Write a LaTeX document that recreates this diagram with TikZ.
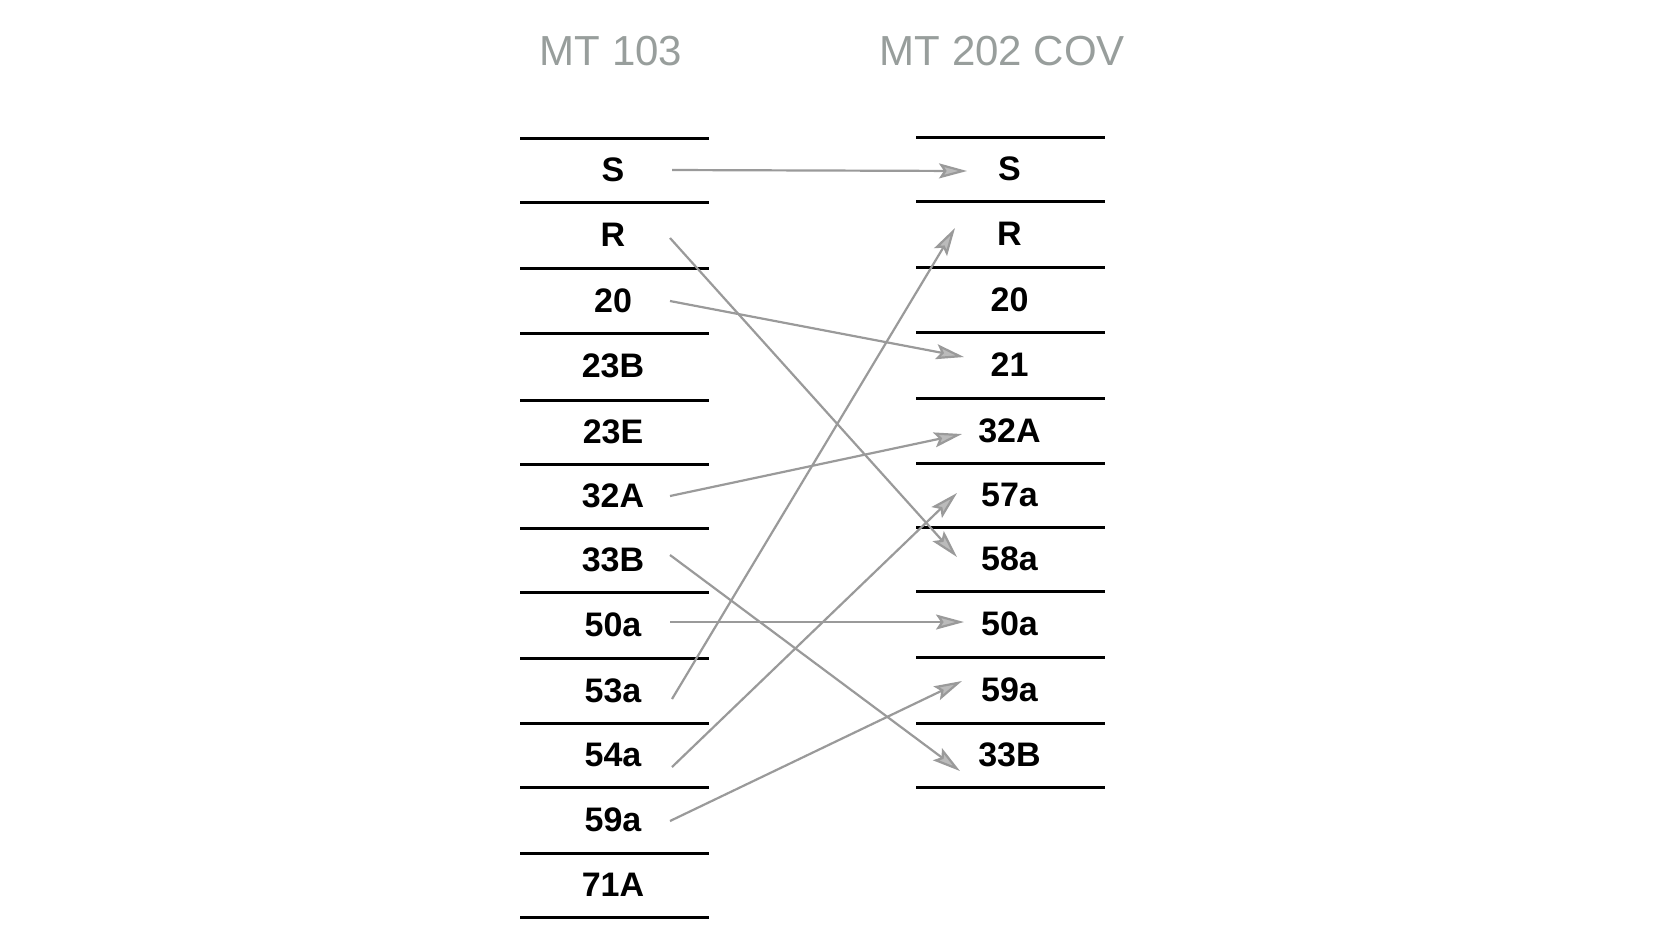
\documentclass[tikz,border=0pt]{standalone}
\usepackage{fontspec}
\setmainfont{Liberation Sans}
\usetikzlibrary{arrows.meta}
\definecolor{ttl}{HTML}{989E9C}
\definecolor{arr}{HTML}{9A9A9A}
\definecolor{arrfill}{HTML}{BBBBBB}
\begin{document}
\begin{tikzpicture}[x=0.5pt,y=-0.5pt,
  rule/.style={line width=1.5pt,black},
  lbl/.style={font=\fontsize{17}{19}\selectfont\bfseries,anchor=base,inner sep=0pt},
  ttlsty/.style={font=\fontsize{21}{24}\selectfont,text=ttl,anchor=base,inner sep=0pt},
  link/.style={draw=arr,line width=1.1pt,-{Stealth[length=14pt,width=7.5pt,inset=2.5pt,fill=arrfill]}}]
\path[use as bounding box,fill=white] (0,0) rectangle (1680,950);
% titles
\node[ttlsty] (t1) at (611,65) {MT 103};
\node[ttlsty] (t2) at (1002.5,65) {MT 202 COV};
% left column rules
\foreach \y in {138,202.5,268,333,400.7,464,528,592.5,658,723,787.5,853,917}
  \draw[rule] (520,\y) -- (709,\y);
% right column rules
\foreach \y in {137,201.5,267,332,398.5,463,527,591.5,657,723,787.5}
  \draw[rule] (916,\y) -- (1105,\y);
% left labels
\foreach \n/\t/\y in {1/S/181.75,2/R/246.75,3/20/312,4/23B/377.85,5/23E/443.85,6/32A/507.5,7/33B/571.75,8/50a/636.75,9/53a/702,10/54a/766.75,11/59a/831.75,12/71A/896.5}
  \node[lbl] (l\n) at (613,\y) {\t};
% right labels
\foreach \n/\t/\y in {1/S/180.75,2/R/245.75,3/20/311,4/21/376.75,5/32A/442.25,6/57a/506.5,7/58a/570.75,8/50a/635.75,9/59a/701.5,10/33B/766.75}
  \node[lbl] (r\n) at (1009.5,\y) {\t};
% connector end points
\coordinate (aS) at (672,170);   \coordinate (bS) at (967,171);
\coordinate (aR) at (670,238);   \coordinate (bR) at (957,557);
\coordinate (a20) at (670,301);  \coordinate (b20) at (964,357);
\coordinate (a32) at (670,496);  \coordinate (b32) at (962,434);
\coordinate (a33) at (670,555);  \coordinate (b33) at (960,771);
\coordinate (a50) at (670,622);  \coordinate (b50) at (964,622);
\coordinate (a53) at (672,699);  \coordinate (b53) at (955,228);
\coordinate (a54) at (672,767);  \coordinate (b54) at (957,493);
\coordinate (a59) at (670,821);  \coordinate (b59) at (962,681);
% connectors
\draw[link] (aS) -- (bS);
\draw[link] (aR) -- (bR);
\draw[link] (a20) -- (b20);
\draw[link] (a32) -- (b32);
\draw[link] (a33) -- (b33);
\draw[link] (a50) -- (b50);
\draw[link] (a53) -- (b53);
\draw[link] (a54) -- (b54);
\draw[link] (a59) -- (b59);
\end{tikzpicture}
\end{document}
